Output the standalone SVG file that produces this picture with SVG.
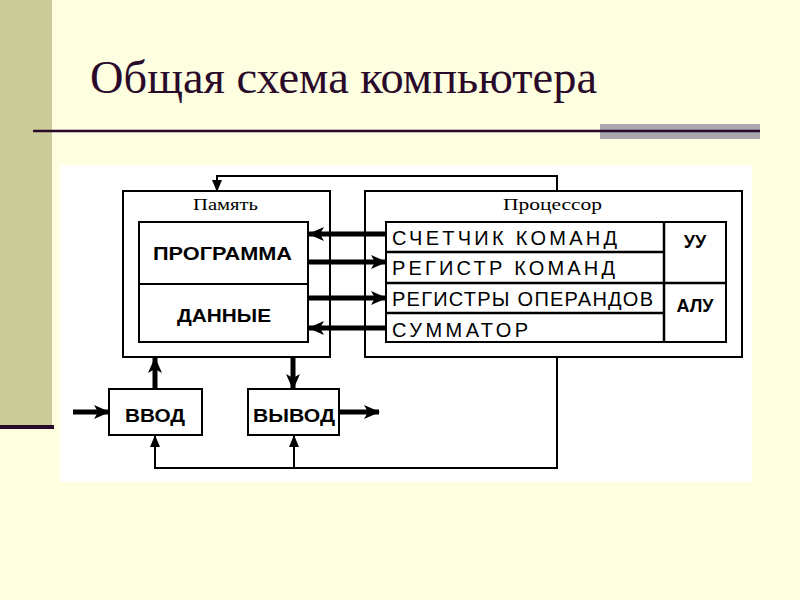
<svg xmlns="http://www.w3.org/2000/svg" width="800" height="600" viewBox="0 0 800 600">
<defs>
<style>
.box{fill:#fff;stroke:#000;stroke-width:2}
.div{stroke:#000;stroke-width:2.5}
.thick{stroke:#000;stroke-width:5;fill:none}
.thin{stroke:#000;stroke-width:2;fill:none}
.lbl{font-family:"Liberation Serif","Times New Roman",serif;font-size:17px;fill:#000}
.bold{font-family:"Liberation Sans",Arial,sans-serif;font-weight:bold;font-size:18px;fill:#000}
.reg{font-family:"Liberation Sans",Arial,sans-serif;font-size:20px;fill:#000}
</style>
<marker id="ah" markerUnits="userSpaceOnUse" viewBox="0 0 16 14" refX="15" refY="7" markerWidth="16" markerHeight="14" orient="auto">
<path d="M0,0 L16,7 L0,14 L4,7 z" fill="#000"/>
</marker>
<marker id="ahs" markerUnits="userSpaceOnUse" viewBox="0 0 12 10" refX="11" refY="5" markerWidth="12" markerHeight="10" orient="auto">
<path d="M0,0 L12,5 L0,10 z" fill="#000"/>
</marker>
</defs>
<rect width="800" height="600" fill="#FEFEE0"/>
<rect x="0" y="0" width="52" height="426" fill="#CCCC99"/>
<rect x="0" y="425" width="54" height="4" fill="#2A0A2A"/>
<text x="90" y="93" font-family="'Liberation Serif','Times New Roman',serif" font-size="46" fill="#2A0A2A" textLength="507" lengthAdjust="spacingAndGlyphs">Общая схема компьютера</text>
<rect x="600" y="124" width="160" height="15" fill="#ABA7B0"/>
<line x1="33" y1="131" x2="760" y2="131" stroke="#2A0A2A" stroke-width="2.5"/>
<rect x="60" y="165" width="692" height="317" fill="#fff"/>

<g id="memory">
<rect class="box" x="123" y="191" width="207" height="166"/>
<text class="lbl" x="193" y="210" textLength="65" lengthAdjust="spacingAndGlyphs">Память</text>
</g>
<g id="program">
<rect class="box" x="139" y="222" width="169" height="62"/>
<text class="bold" x="153" y="260" textLength="139" lengthAdjust="spacingAndGlyphs">ПРОГРАММА</text>
</g>
<g id="data">
<rect class="box" x="139" y="284" width="169" height="58"/>
<text class="bold" x="177" y="322" textLength="94" lengthAdjust="spacingAndGlyphs">ДАННЫЕ</text>
</g>
<g id="processor">
<rect class="box" x="365" y="191" width="377" height="166"/>
<text class="lbl" x="503" y="210" textLength="99" lengthAdjust="spacingAndGlyphs">Процессор</text>
<rect class="box" x="386" y="222" width="340" height="120"/>
<line class="div" x1="664" y1="222" x2="664" y2="342"/>
</g>
<g id="counter">
<text class="reg" x="392" y="245" textLength="225" lengthAdjust="spacing">СЧЕТЧИК КОМАНД</text>
<line class="div" x1="386" y1="252" x2="664" y2="252"/>
</g>
<g id="cmdreg">
<text class="reg" x="392" y="275" textLength="223" lengthAdjust="spacing">РЕГИСТР КОМАНД</text>
<line class="div" x1="386" y1="283" x2="726" y2="283"/>
</g>
<g id="opreg">
<text class="reg" x="392" y="306" textLength="261" lengthAdjust="spacing">РЕГИСТРЫ ОПЕРАНДОВ</text>
<line class="div" x1="386" y1="313" x2="664" y2="313"/>
</g>
<g id="adder">
<text class="reg" x="392" y="337" textLength="136" lengthAdjust="spacing">СУММАТОР</text>
</g>
<g id="cu">
<text class="bold" x="695" y="248" text-anchor="middle">УУ</text>
</g>
<g id="alu">
<text class="bold" x="695" y="312" text-anchor="middle">АЛУ</text>
</g>
<g id="input">
<rect class="box" x="109" y="389" width="93" height="46"/>
<text class="bold" x="125" y="422" textLength="60" lengthAdjust="spacingAndGlyphs">ВВОД</text>
</g>
<g id="output">
<rect class="box" x="248" y="389" width="91" height="46"/>
<text class="bold" x="253" y="422" textLength="82" lengthAdjust="spacingAndGlyphs">ВЫВОД</text>
</g>

<g id="connectors">
<line class="thick" x1="386" y1="234" x2="309" y2="234" marker-end="url(#ah)"/>
<line class="thick" x1="309" y1="262" x2="386" y2="262" marker-end="url(#ah)"/>
<line class="thick" x1="309" y1="298" x2="386" y2="298" marker-end="url(#ah)"/>
<line class="thick" x1="386" y1="328" x2="309" y2="328" marker-end="url(#ah)"/>
<line class="thick" x1="155" y1="389" x2="155" y2="358" marker-end="url(#ah)"/>
<line class="thick" x1="293" y1="358" x2="293" y2="389" marker-end="url(#ah)"/>
<line class="thick" x1="73" y1="412" x2="109" y2="412" marker-end="url(#ah)"/>
<line class="thick" x1="340" y1="412" x2="379" y2="412" marker-end="url(#ah)"/>
<path class="thin" d="M557,191 V176 H217 V191" marker-end="url(#ahs)"/>
<path class="thin" d="M557,357 V468 H155 V436" marker-end="url(#ahs)"/>
<path class="thin" d="M294,468 V436" marker-end="url(#ahs)"/>
</g>
</svg>
